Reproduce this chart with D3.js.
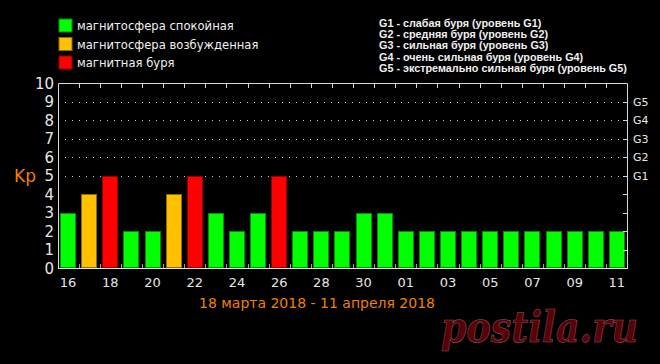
<!DOCTYPE html>
<html>
<head>
<meta charset="utf-8">
<script src="https://cdn.jsdelivr.net/npm/d3@7"></script>
<style>
  html, body { margin: 0; padding: 0; background: #000; }
  svg { display: block; }
</style>
</head>
<body>
<div id="chart"></div>
<script>
// Kp-Index, 16.03 – 11.04.2018
const days = ['16','17','18','19','20','21','22','23','24','25','26','27','28','29','30','31',
              '01','02','03','04','05','06','07','08','09','10','11'];
const kp   = [3, 4, 5, 2, 2, 4, 5, 3, 2, 3, 5, 2, 2, 2, 3, 3,
              2, 2, 2, 2, 2, 2, 2, 2, 2, 2, 2];
const dayLabels = ['16','18','20','22','24','26','28','30','01','03','05','07','09','11'];
const kpTicks = [0,1,2,3,4,5,6,7,8,9,10];
const gLevels = [
  { kp: 5, name: 'G1' }, { kp: 6, name: 'G2' }, { kp: 7, name: 'G3' },
  { kp: 8, name: 'G4' }, { kp: 9, name: 'G5' }
];
const stateLegend = [
  { name: 'магнитосфера спокойная',     color: '#00ff00' },
  { name: 'магнитосфера возбужденная',  color: '#ffc000' },
  { name: 'магнитная буря',             color: '#ff0000' }
];
const gLegend = [
  'G1 - слабая буря (уровень G1)',
  'G2 - средняя буря (уровень G2)',
  'G3 - сильная буря (уровень G3)',
  'G4 - очень сильная буря (уровень G4)',
  'G5 - экстремально сильная буря (уровень G5)'
];
const title = '18 марта 2018 - 11 апреля 2018';

const W = 660, H = 364;
const plot = { left: 58, right: 627, top: 83, bottom: 268 };
const FONT = '"DejaVu Sans", sans-serif';

const svg = d3.select('#chart').append('svg')
  .attr('width', W).attr('height', H)
  .style('background', '#000');

const x = d3.scaleBand().domain(days)
  .range([plot.left, plot.right])
  .paddingInner(0.24).paddingOuter(0.1);
const y = d3.scaleLinear().domain([0, 10]).range([plot.bottom, plot.top]);

// Farbe nach Kp
const color = d3.scaleThreshold().domain([4, 5]).range(['#00ff00', '#ffc000', '#ff0000']);

// gepunktete G-Linien
svg.append('g').selectAll('line')
  .data(gLevels).join('line')
    .attr('x1', plot.left).attr('x2', plot.right)
    .attr('y1', d => Math.round(y(d.kp)) + 0.5).attr('y2', d => Math.round(y(d.kp)) + 0.5)
    .attr('stroke', '#d0d0d0').attr('stroke-dasharray', '1,6');

// Balken
svg.append('g').selectAll('rect')
  .data(days).join('rect')
    .attr('x', d => Math.round(x(d)) + 0.5)
    .attr('y', (d, i) => Math.round(y(kp[i])) + 0.5)
    .attr('width', Math.round(x.bandwidth()) - 1)
    .attr('height', (d, i) => Math.round(y(0)) - Math.round(y(kp[i])) - 1)
    .attr('fill', (d, i) => color(kp[i]))
    .attr('stroke', (d, i) => d3.color(color(kp[i])).darker(1.6))
    .attr('stroke-width', 1);

// Rahmen
const frame = svg.append('g').attr('fill', 'none').attr('stroke', '#d8d8d8');
frame.append('path')
  .attr('d', `M${plot.left + 0.5},${plot.bottom + 0.5}V${plot.top + 0.5}H${plot.right + 0.5}V${plot.bottom + 0.5}`);
frame.append('line')
  .attr('x1', plot.left).attr('x2', plot.right + 1)
  .attr('y1', plot.bottom + 0.5).attr('y2', plot.bottom + 0.5)
  .attr('stroke', '#e8e8e8');

// Tick-Positionen zwischen den Balken
const gap = x.step() * x.paddingInner() / 2;
const bounds = days.slice(1).map(d => Math.round(x(d) - gap) + 0.5);

svg.append('g').selectAll('line')
  .data(bounds).join('line')
    .attr('x1', d => d).attr('x2', d => d)
    .attr('y1', plot.top).attr('y2', plot.top + 5)
    .attr('stroke', '#d8d8d8');
svg.append('g').selectAll('line')
  .data(bounds).join('line')
    .attr('x1', d => d).attr('x2', d => d)
    .attr('y1', plot.bottom).attr('y2', plot.bottom - 4)
    .attr('stroke', '#a0a0a0');

// rechte Achse: Ticks nach innen
svg.append('g').selectAll('line')
  .data(kpTicks.slice(1, 10)).join('line')
    .attr('x1', plot.right - 4).attr('x2', plot.right)
    .attr('y1', d => Math.round(y(d)) + 0.5).attr('y2', d => Math.round(y(d)) + 0.5)
    .attr('stroke', '#d8d8d8');

// linke Achse: Kp-Werte
svg.append('g').selectAll('text')
  .data(kpTicks).join('text')
    .attr('x', 54).attr('y', d => y(d) + 5.5)
    .attr('text-anchor', 'end')
    .attr('font-family', FONT).attr('font-size', 15)
    .attr('fill', '#e6e6e6')
    .text(d => d);

svg.append('text')
  .attr('x', 14).attr('y', 182)
  .attr('font-family', FONT).attr('font-size', 17)
  .attr('fill', '#f08000')
  .text('Kp');

// rechte Achse: G-Stufen
svg.append('g').selectAll('text')
  .data(gLevels).join('text')
    .attr('x', 633).attr('y', d => y(d.kp) + 4)
    .attr('font-family', FONT).attr('font-size', 11)
    .attr('fill', '#e6e6e6')
    .text(d => d.name);

// Tageslabels
svg.append('g').selectAll('text')
  .data(dayLabels).join('text')
    .attr('x', d => x(d) + x.bandwidth() / 2)
    .attr('y', 287)
    .attr('text-anchor', 'middle')
    .attr('font-family', FONT).attr('font-size', 13)
    .attr('fill', '#e6e6e6')
    .text(d => d);

// Zeitraum
svg.append('text')
  .attr('x', 317).attr('y', 308)
  .attr('text-anchor', 'middle')
  .attr('font-family', FONT).attr('font-size', 14)
  .attr('fill', '#f08000')
  .text(title);

// Legende links
const legL = svg.append('g').selectAll('g')
  .data(stateLegend).join('g')
    .attr('transform', (d, i) => `translate(59, ${19 + i * 18.5})`);
legL.append('rect')
  .attr('width', 13).attr('height', 13)
  .attr('fill', d => d.color)
  .attr('stroke', d => d3.color(d.color).darker(1.6));
legL.append('text')
  .attr('x', 18).attr('y', 11)
  .attr('font-family', FONT).attr('font-size', 11.6)
  .attr('fill', '#f0f0f0')
  .text(d => d.name);

// Legende rechts
svg.append('g').selectAll('text')
  .data(gLegend).join('text')
    .attr('x', 379).attr('y', (d, i) => 27 + i * 11.2)
    .attr('font-family', '"Liberation Sans", sans-serif').attr('font-size', 10.8)
    .attr('font-weight', 'bold')
    .attr('fill', '#f0f0f0')
    .text(d => d);

// Wasserzeichen (auf Zielbreite skaliert)
const wm = svg.append('g');
const wmText = wm.append('text')
  .attr('font-family', '"DejaVu Serif", serif').attr('font-size', 42)
  .attr('font-style', 'italic').attr('font-weight', 'bold')
  .attr('fill', '#5a0008').attr('stroke', '#8a5a5a').attr('stroke-width', 0.6)
  .text('postila.ru');
const wmScale = 197 / wmText.node().getComputedTextLength();
wm.attr('transform', `translate(441,342) scale(${wmScale},1)`);
</script>
</body>
</html>
